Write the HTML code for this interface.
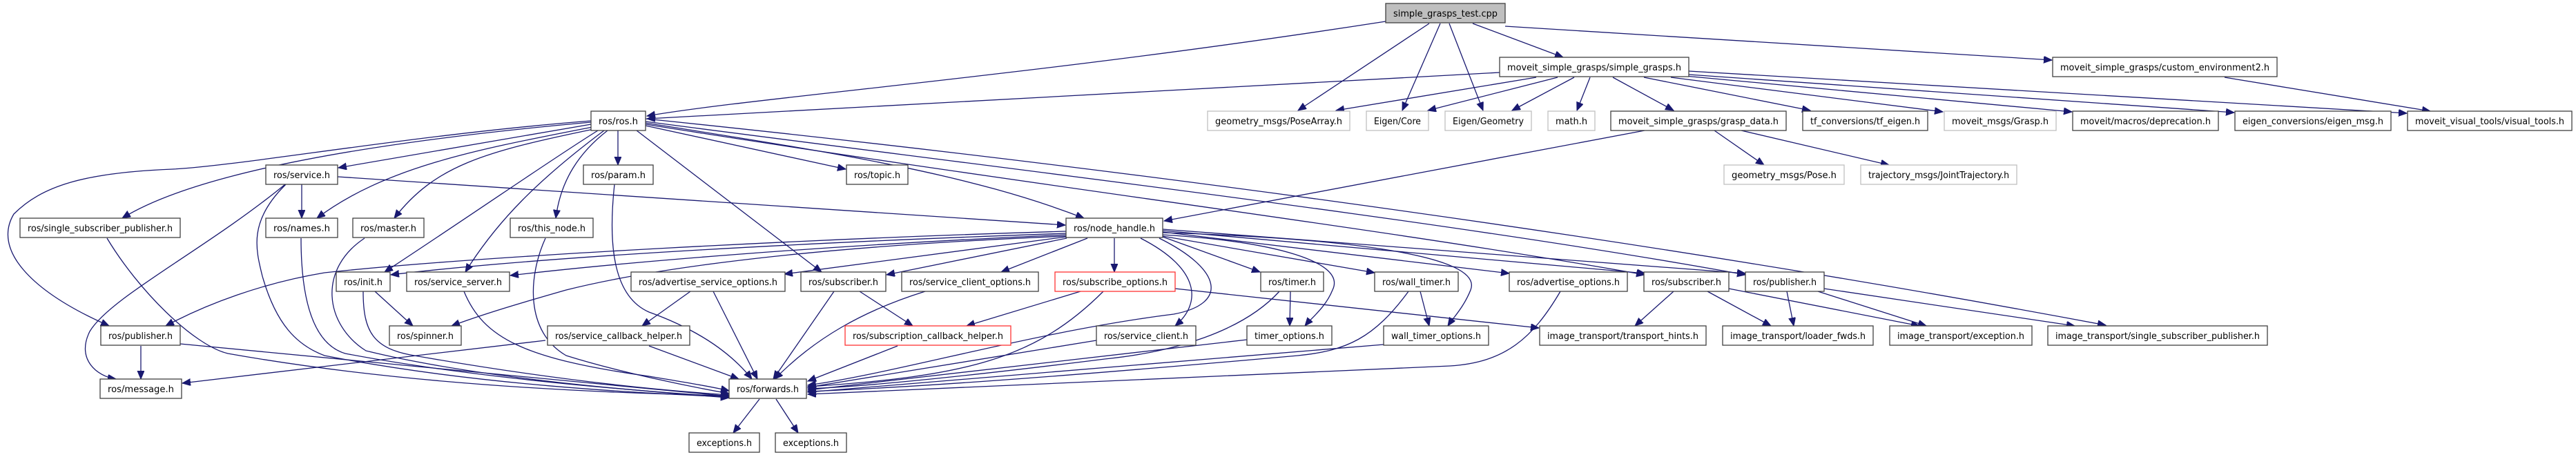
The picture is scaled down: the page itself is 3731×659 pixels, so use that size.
<!DOCTYPE html>
<html><head><meta charset="utf-8"><style>
html,body{margin:0;padding:0;background:#fff;width:3731px;height:659px;overflow:hidden}
svg{display:block}
text{font-family:"DejaVu Sans","Liberation Sans",sans-serif;font-size:13px;fill:#000}
.e{fill:none;stroke:#191970;stroke-width:1.3}
.n{fill:#fff;stroke:#404040;stroke-width:1.3}
.g{fill:#fff;stroke:#bfbfbf;stroke-width:1.3}
.r{fill:#fff;stroke:#ff3333;stroke-width:1.3}
.t{fill:#bfbfbf;stroke:#404040;stroke-width:1.3}
</style></head><body>
<svg width="3731" height="659" viewBox="0 0 3731 659" xmlns="http://www.w3.org/2000/svg">
<defs><marker id="a" markerUnits="userSpaceOnUse" markerWidth="14" markerHeight="12" refX="12" refY="5" orient="auto"><path d="M0,0 L12,5 L0,10 z" fill="#191970" stroke="#191970"/></marker></defs>
<g class="e" marker-end="url(#a)">
<path d="M2007,31 C1500,110 1100,140 937,168"/>
<path d="M2070,34 L1880,160"/>
<path d="M2086,34 L2031,160"/>
<path d="M2099,34 L2148,160"/>
<path d="M2133,34 L2264,83"/>
<path d="M2180,38 L2972,87"/>
<path d="M2172,105 L937,172"/>
<path d="M2225,112 L1935,160"/>
<path d="M2256,112 L2068,160"/>
<path d="M2280,112 L2190,160"/>
<path d="M2303,112 L2284,160"/>
<path d="M2336,112 L2424,160"/>
<path d="M2381,112 L2622,160"/>
<path d="M2420,112 L2814,162"/>
<path d="M2440,110 L3001,162"/>
<path d="M2446,108 L3236,163"/>
<path d="M2446,103 L3486,164"/>
<path d="M3222,112 L3520,161"/>
<path d="M2382,189 L1686,320"/>
<path d="M2483,189 L2555,239"/>
<path d="M2522,189 L2736,239"/>
<path d="M856,180 L490,243"/>
<path d="M858,184 C700,215 560,240 459,316"/>
<path d="M860,187 C700,220 630,240 571,316"/>
<path d="M895,189 L895,239"/>
<path d="M880,189 C840,220 812,260 805,316"/>
<path d="M866,189 C800,230 700,300 557,394"/>
<path d="M875,189 C780,260 720,320 674,394"/>
<path d="M935,182 L1225,245"/>
<path d="M935,178 C1200,220 1400,250 1570,316"/>
<path d="M922,189 L1190,394"/>
<path d="M856,177 C600,200 300,240 177,316"/>
<path d="M856,175 C600,195 350,240 250,245 C120,250 60,270 20,310 C-10,360 40,420 158,472"/>
<path d="M935,180 C1500,270 2000,330 2382,398"/>
<path d="M935,176 C1500,250 2100,320 2528,398"/>
<path d="M935,172 C1500,230 2300,330 3050,471"/>
<path d="M437,267 L437,316"/>
<path d="M489,256 L1543,326"/>
<path d="M413,267 C300,360 160,430 130,480 C110,520 140,545 168,549"/>
<path d="M414,267 C360,320 370,360 380,400 C400,470 430,500 470,515 C700,560 950,570 1056,575"/>
<path d="M155,345 C200,420 280,500 330,512 C600,560 900,570 1056,573"/>
<path d="M436,345 C436,450 460,500 500,512 C700,550 950,568 1056,575"/>
<path d="M528,345 C460,390 470,470 530,508 C700,550 950,568 1056,576"/>
<path d="M790,345 C765,400 760,480 820,515 C900,540 1000,560 1056,570"/>
<path d="M890,267 C880,360 890,430 940,452 C990,470 1050,500 1089,549"/>
<path d="M543,422 L598,472"/>
<path d="M526,422 C526,480 540,505 600,515 C800,550 950,565 1056,572"/>
<path d="M672,422 C700,490 760,520 940,545 C1000,555 1030,560 1056,566"/>
<path d="M790,493 L264,555"/>
<path d="M940,501 L1070,549"/>
<path d="M204,501 L204,549"/>
<path d="M261,498 L1056,574"/>
<path d="M1544,335 C1200,345 700,370 470,395 C380,410 300,440 240,472"/>
<path d="M1544,338 C1200,350 800,370 566,398"/>
<path d="M1544,340 C1200,355 900,380 739,399"/>
<path d="M1544,342 C1100,360 900,400 820,420 C750,440 700,455 654,472"/>
<path d="M1544,343 L1136,397"/>
<path d="M1545,345 L1284,398"/>
<path d="M1575,345 L1450,394"/>
<path d="M1614,345 L1614,394"/>
<path d="M1652,345 C1740,390 1740,440 1702,472"/>
<path d="M1679,345 C1770,390 1780,440 1700,455 C1500,480 1300,540 1170,558"/>
<path d="M1684,343 L1825,394"/>
<path d="M1684,340 C1850,350 1950,380 1930,420 C1920,445 1900,460 1890,472"/>
<path d="M1684,342 L1991,395"/>
<path d="M1684,337 C1950,345 2150,370 2130,420 C2120,445 2105,460 2097,472"/>
<path d="M1684,336 L2186,396"/>
<path d="M1684,334 L2383,396"/>
<path d="M1684,332 L2528,396"/>
<path d="M1000,422 L930,472"/>
<path d="M1033,422 L1097,549"/>
<path d="M1245,422 L1322,472"/>
<path d="M1208,422 L1120,549"/>
<path d="M1340,422 C1250,450 1180,490 1122,549"/>
<path d="M1565,422 L1400,472"/>
<path d="M1598,422 C1500,520 1400,545 1170,560"/>
<path d="M1702,418 L2229,475"/>
<path d="M1300,501 L1170,552"/>
<path d="M1588,493 L1170,561"/>
<path d="M1869,422 L1868,472"/>
<path d="M1853,422 C1800,480 1700,510 1600,520 C1400,545 1250,560 1170,563"/>
<path d="M1806,492 L1170,565"/>
<path d="M2057,422 L2070,472"/>
<path d="M2040,422 C1990,490 1950,508 1880,515 C1600,540 1350,560 1170,567"/>
<path d="M2004,499 L1170,568"/>
<path d="M2260,422 C2220,490 2180,525 2100,530 C1700,550 1400,562 1170,571"/>
<path d="M2424,422 L2368,472"/>
<path d="M2473,422 L2565,472"/>
<path d="M2504,418 L2780,472"/>
<path d="M2588,422 L2598,472"/>
<path d="M2633,422 L2790,472"/>
<path d="M2642,418 L3005,472"/>
<path d="M1100,578 L1062,627"/>
<path d="M1124,578 L1156,627"/>
</g>
<g>
<rect class="t" x="2007" y="5" width="173" height="28"/><text x="2018" y="24" textLength="151" lengthAdjust="spacingAndGlyphs">simple_grasps_test.cpp</text>
<rect class="n" x="2172" y="83" width="274" height="28"/><text x="2183" y="102" textLength="252" lengthAdjust="spacingAndGlyphs">moveit_simple_grasps/simple_grasps.h</text>
<rect class="n" x="2973" y="83" width="325" height="28"/><text x="2984" y="102" textLength="303" lengthAdjust="spacingAndGlyphs">moveit_simple_grasps/custom_environment2.h</text>
<rect class="n" x="856" y="161" width="79" height="28"/><text x="867" y="180" textLength="57" lengthAdjust="spacingAndGlyphs">ros/ros.h</text>
<rect class="g" x="1749" y="161" width="206" height="28"/><text x="1760" y="180" textLength="184" lengthAdjust="spacingAndGlyphs">geometry_msgs/PoseArray.h</text>
<rect class="g" x="1979" y="161" width="90" height="28"/><text x="1990" y="180" textLength="68" lengthAdjust="spacingAndGlyphs">Eigen/Core</text>
<rect class="g" x="2093" y="161" width="125" height="28"/><text x="2104" y="180" textLength="103" lengthAdjust="spacingAndGlyphs">Eigen/Geometry</text>
<rect class="g" x="2242" y="161" width="68" height="28"/><text x="2253" y="180" textLength="46" lengthAdjust="spacingAndGlyphs">math.h</text>
<rect class="n" x="2333" y="161" width="254" height="28"/><text x="2344" y="180" textLength="232" lengthAdjust="spacingAndGlyphs">moveit_simple_grasps/grasp_data.h</text>
<rect class="n" x="2611" y="161" width="181" height="28"/><text x="2622" y="180" textLength="159" lengthAdjust="spacingAndGlyphs">tf_conversions/tf_eigen.h</text>
<rect class="g" x="2816" y="161" width="162" height="28"/><text x="2827" y="180" textLength="140" lengthAdjust="spacingAndGlyphs">moveit_msgs/Grasp.h</text>
<rect class="n" x="3002" y="161" width="211" height="28"/><text x="3013" y="180" textLength="189" lengthAdjust="spacingAndGlyphs">moveit/macros/deprecation.h</text>
<rect class="n" x="3237" y="161" width="226" height="28"/><text x="3248" y="180" textLength="204" lengthAdjust="spacingAndGlyphs">eigen_conversions/eigen_msg.h</text>
<rect class="n" x="3487" y="161" width="238" height="28"/><text x="3498" y="180" textLength="216" lengthAdjust="spacingAndGlyphs">moveit_visual_tools/visual_tools.h</text>
<rect class="n" x="385" y="239" width="104" height="28"/><text x="396" y="258" textLength="82" lengthAdjust="spacingAndGlyphs">ros/service.h</text>
<rect class="n" x="845" y="239" width="101" height="28"/><text x="856" y="258" textLength="79" lengthAdjust="spacingAndGlyphs">ros/param.h</text>
<rect class="n" x="1226" y="239" width="89" height="28"/><text x="1237" y="258" textLength="67" lengthAdjust="spacingAndGlyphs">ros/topic.h</text>
<rect class="g" x="2497" y="239" width="174" height="28"/><text x="2508" y="258" textLength="152" lengthAdjust="spacingAndGlyphs">geometry_msgs/Pose.h</text>
<rect class="g" x="2695" y="239" width="226" height="28"/><text x="2706" y="258" textLength="204" lengthAdjust="spacingAndGlyphs">trajectory_msgs/JointTrajectory.h</text>
<rect class="n" x="29" y="316" width="232" height="28"/><text x="40" y="335" textLength="210" lengthAdjust="spacingAndGlyphs">ros/single_subscriber_publisher.h</text>
<rect class="n" x="385" y="316" width="104" height="28"/><text x="396" y="335" textLength="82" lengthAdjust="spacingAndGlyphs">ros/names.h</text>
<rect class="n" x="511" y="316" width="103" height="28"/><text x="522" y="335" textLength="81" lengthAdjust="spacingAndGlyphs">ros/master.h</text>
<rect class="n" x="739" y="316" width="120" height="28"/><text x="750" y="335" textLength="98" lengthAdjust="spacingAndGlyphs">ros/this_node.h</text>
<rect class="n" x="1544" y="316" width="140" height="28"/><text x="1555" y="335" textLength="118" lengthAdjust="spacingAndGlyphs">ros/node_handle.h</text>
<rect class="n" x="487" y="394" width="78" height="28"/><text x="498" y="413" textLength="56" lengthAdjust="spacingAndGlyphs">ros/init.h</text>
<rect class="n" x="589" y="394" width="149" height="28"/><text x="600" y="413" textLength="127" lengthAdjust="spacingAndGlyphs">ros/service_server.h</text>
<rect class="n" x="914" y="394" width="223" height="28"/><text x="925" y="413" textLength="201" lengthAdjust="spacingAndGlyphs">ros/advertise_service_options.h</text>
<rect class="n" x="1160" y="394" width="123" height="28"/><text x="1171" y="413" textLength="101" lengthAdjust="spacingAndGlyphs">ros/subscriber.h</text>
<rect class="n" x="1306" y="394" width="198" height="28"/><text x="1317" y="413" textLength="176" lengthAdjust="spacingAndGlyphs">ros/service_client_options.h</text>
<rect class="r" x="1528" y="394" width="174" height="28"/><text x="1539" y="413" textLength="152" lengthAdjust="spacingAndGlyphs">ros/subscribe_options.h</text>
<rect class="n" x="1826" y="394" width="91" height="28"/><text x="1837" y="413" textLength="69" lengthAdjust="spacingAndGlyphs">ros/timer.h</text>
<rect class="n" x="1991" y="394" width="121" height="28"/><text x="2002" y="413" textLength="99" lengthAdjust="spacingAndGlyphs">ros/wall_timer.h</text>
<rect class="n" x="2186" y="394" width="171" height="28"/><text x="2197" y="413" textLength="149" lengthAdjust="spacingAndGlyphs">ros/advertise_options.h</text>
<rect class="n" x="2381" y="394" width="123" height="28"/><text x="2392" y="413" textLength="101" lengthAdjust="spacingAndGlyphs">ros/subscriber.h</text>
<rect class="n" x="2528" y="394" width="114" height="28"/><text x="2539" y="413" textLength="92" lengthAdjust="spacingAndGlyphs">ros/publisher.h</text>
<rect class="n" x="146" y="472" width="115" height="28"/><text x="157" y="491" textLength="93" lengthAdjust="spacingAndGlyphs">ros/publisher.h</text>
<rect class="n" x="564" y="472" width="104" height="28"/><text x="575" y="491" textLength="82" lengthAdjust="spacingAndGlyphs">ros/spinner.h</text>
<rect class="n" x="793" y="472" width="206" height="28"/><text x="804" y="491" textLength="184" lengthAdjust="spacingAndGlyphs">ros/service_callback_helper.h</text>
<rect class="r" x="1224" y="472" width="240" height="28"/><text x="1235" y="491" textLength="218" lengthAdjust="spacingAndGlyphs">ros/subscription_callback_helper.h</text>
<rect class="n" x="1588" y="472" width="144" height="28"/><text x="1599" y="491" textLength="122" lengthAdjust="spacingAndGlyphs">ros/service_client.h</text>
<rect class="n" x="1806" y="472" width="123" height="28"/><text x="1817" y="491" textLength="101" lengthAdjust="spacingAndGlyphs">timer_options.h</text>
<rect class="n" x="2004" y="472" width="152" height="28"/><text x="2015" y="491" textLength="130" lengthAdjust="spacingAndGlyphs">wall_timer_options.h</text>
<rect class="n" x="2230" y="472" width="241" height="28"/><text x="2241" y="491" textLength="219" lengthAdjust="spacingAndGlyphs">image_transport/transport_hints.h</text>
<rect class="n" x="2495" y="472" width="218" height="28"/><text x="2506" y="491" textLength="196" lengthAdjust="spacingAndGlyphs">image_transport/loader_fwds.h</text>
<rect class="n" x="2737" y="472" width="206" height="28"/><text x="2748" y="491" textLength="184" lengthAdjust="spacingAndGlyphs">image_transport/exception.h</text>
<rect class="n" x="2966" y="472" width="318" height="28"/><text x="2977" y="491" textLength="296" lengthAdjust="spacingAndGlyphs">image_transport/single_subscriber_publisher.h</text>
<rect class="n" x="145" y="549" width="118" height="28"/><text x="156" y="568" textLength="96" lengthAdjust="spacingAndGlyphs">ros/message.h</text>
<rect class="n" x="1056" y="549" width="112" height="28"/><text x="1067" y="568" textLength="90" lengthAdjust="spacingAndGlyphs">ros/forwards.h</text>
<rect class="n" x="998" y="627" width="102" height="28"/><text x="1009" y="646" textLength="80" lengthAdjust="spacingAndGlyphs">exceptions.h</text>
<rect class="n" x="1123" y="627" width="103" height="28"/><text x="1134" y="646" textLength="81" lengthAdjust="spacingAndGlyphs">exceptions.h</text>
</g>
</svg>
</body></html>
